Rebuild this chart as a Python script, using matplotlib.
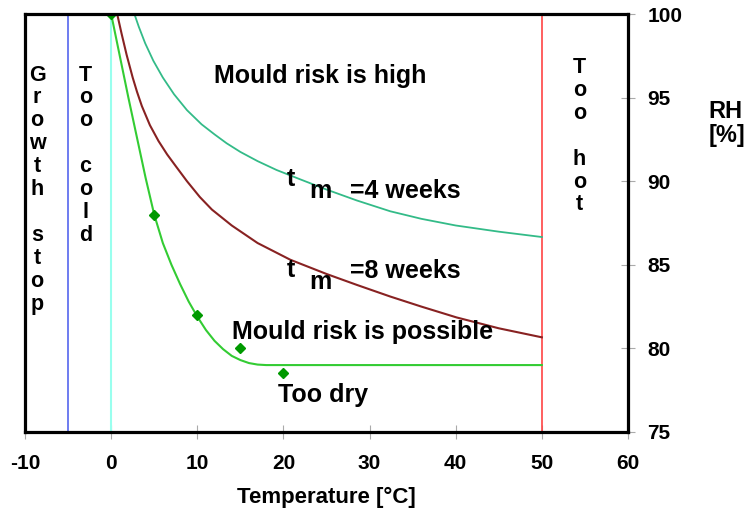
import matplotlib
matplotlib.use('Agg')
import matplotlib.pyplot as plt

plt.rcParams['font.family'] = ['Liberation Sans', 'DejaVu Sans']
plt.rcParams['font.weight'] = 'bold'
plt.rcParams['axes.unicode_minus'] = False

# curves (temperature [C], RH [%])
t_4w = [2.7, 3.2, 3.95, 4.9, 6.0, 7.3, 8.8, 10.5, 12.0, 13.4, 15.0, 17.0, 19.2, 22.0, 25.0,
        28.5, 32.4, 36.0, 40.0, 45.0, 50.0]
rh_4w = [100.0, 99.25, 98.25, 97.2, 96.2, 95.2, 94.25, 93.4, 92.8, 92.27, 91.75, 91.2, 90.67,
         90.1, 89.5, 88.85, 88.2, 87.75, 87.35, 86.98, 86.66]

t_8w = [0.7, 1.2, 1.8, 2.5, 3.0, 3.56, 4.5, 5.5, 6.5, 7.5, 8.8, 10.3, 11.7, 14.0, 17.0, 20.8,
        25.0, 28.5, 32.4, 36.0, 40.1, 45.0, 50.0]
rh_8w = [100.0, 98.85, 97.55, 96.2, 95.35, 94.5, 93.35, 92.4, 91.6, 90.9, 90.0, 89.05, 88.3,
         87.35, 86.3, 85.3, 84.45, 83.8, 83.1, 82.5, 81.85, 81.2, 80.66]

t_min = [0, 1, 2, 3, 4, 5, 6, 7, 8, 9, 10, 11, 12, 13, 14, 15, 16, 17, 18, 20, 30, 40, 50]
rh_min = [100.0, 97.5, 95.0, 92.6, 90.2, 88.0, 86.3, 85.0, 83.85, 82.8, 81.9, 81.1, 80.45,
          79.95, 79.55, 79.3, 79.12, 79.03, 79.0, 79.0, 79.0, 79.0, 79.0]

t_pts = [0, 5, 10, 15, 20]
rh_pts = [100, 88, 82, 80, 78.5]

x_ticks = [-10, 0, 10, 20, 30, 40, 50, 60]
y_ticks = [75, 80, 85, 90, 95, 100]

fig = plt.figure(figsize=(7.51, 5.13), dpi=100)
ax = fig.add_axes([0.0333, 0.158, 0.8029, 0.8147])

ax.axvline(-5, color='#5566ee', lw=1.2)
ax.axvline(0, color='#99ffee', lw=1.5)
ax.axvline(50, color='#ff4444', lw=1.2)

ax.plot(t_4w, rh_4w, color='#33bb88', lw=1.3)
ax.plot(t_8w, rh_8w, color='#882222', lw=1.5)
ax.plot(t_min, rh_min, color='#33cc33', lw=1.5)
ax.plot(t_pts, rh_pts, linestyle='none', marker='D', ms=5, color='#009900')

ax.set_xlim(-10, 60)
ax.set_ylim(75, 100)
ax.set_xticks(x_ticks)
ax.set_yticks(y_ticks)
ax.yaxis.tick_right()
ax.tick_params(axis='both', direction='inout', length=10, width=0.8, color='#aaaaaa',
               labelsize=15)
ax.tick_params(axis='x', pad=11)
ax.tick_params(axis='y', pad=9)
for lab in ax.get_xticklabels() + ax.get_yticklabels():
    lab.set_fontweight('bold')
for s in ax.spines.values():
    s.set_linewidth(2.3)

ax.set_xlabel('Temperature [°C]', fontsize=16, fontweight='bold', labelpad=10)
fig.text(0.943, 0.76, 'RH\n[%]', fontsize=17, fontweight='bold', ha='left', va='center',
         linespacing=1.05)

fs = 18
ax.text(24.3, 96.3, 'Mould risk is high', fontsize=fs, ha='center', va='center')
ax.text(20.9, 90.13, 't', fontsize=fs, ha='center', va='center')
ax.text(24.3, 89.41, 'm', fontsize=fs, ha='center', va='center')
ax.text(27.76, 89.41, '=4 weeks', fontsize=fs, ha='left', va='center')
ax.text(20.9, 84.69, 't', fontsize=fs, ha='center', va='center')
ax.text(24.3, 83.97, 'm', fontsize=fs, ha='center', va='center')
ax.text(27.76, 84.63, '=8 weeks', fontsize=fs, ha='left', va='center')
ax.text(29.2, 80.98, 'Mould risk is possible', fontsize=fs, ha='center', va='center')
ax.text(24.6, 77.2, 'Too dry', fontsize=fs, ha='center', va='center')

# vertical spelled labels
def column(x, y0, word, step=1.37):
    for i, ch in enumerate(word):
        if ch != ' ':
            ax.text(x, y0 - i * step, ch, fontsize=15.5, ha='center', va='center')

column(-8.6, 96.35, 'Growth stop')
column(-3.0, 96.35, 'Too cold')
column(54.35, 96.8, 'Too hot')

fig.savefig('out.png', dpi=100)
